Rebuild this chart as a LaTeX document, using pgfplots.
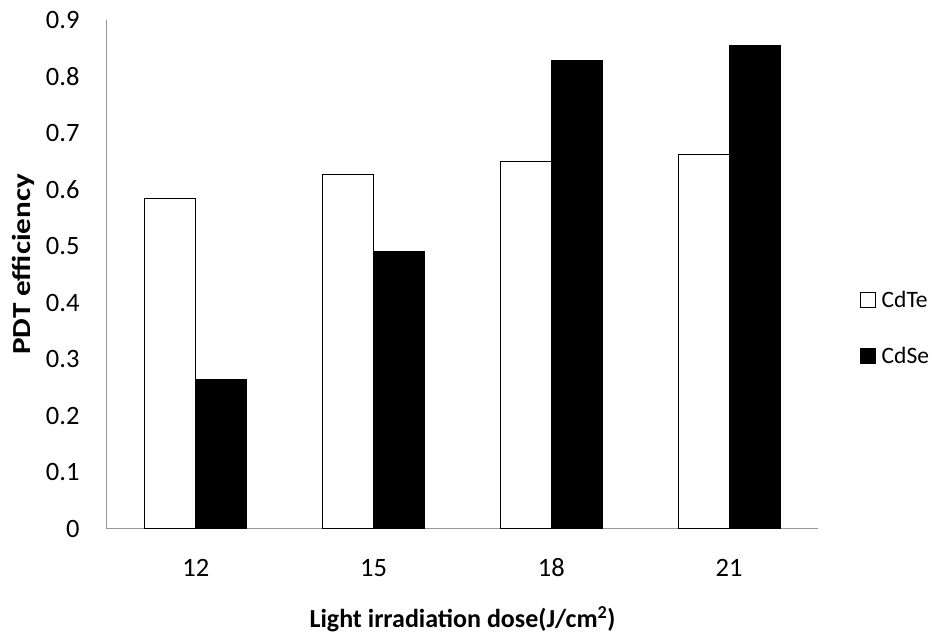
\documentclass[border=0pt]{standalone}
\usepackage{fontspec}
\setmainfont{Carlito}
\usepackage{pgfplots}
\pgfplotsset{compat=1.18}
\begin{document}
\begin{tikzpicture}[x=1pt,y=1pt]
\begin{axis}[
  name=ax,
  at={(107pt,106pt)}, anchor=south west,
  scale only axis, width=711pt, height=509pt,
  xmin=-0.5, xmax=3.5, ymin=0, ymax=0.9,
  axis lines*=left,
  axis line style={draw=gray!80, line width=1pt},
  xtick={0,1,2,3}, xticklabels={12,15,18,21},
  ytick={0,0.1,...,0.9},
  yticklabel style={/pgf/number format/fixed, /pgf/number format/precision=1},
  /pgf/number format/assume math mode=true,
  major tick length=0pt,
  tick label style={font=\fontsize{26.5}{29}\selectfont},
  xticklabel style={anchor=north, yshift=-26pt, text height=18pt, text depth=0pt},
  yticklabel style={xshift=-24pt},
  ybar, bar width=0.287,
  xlabel={\textbf{Light irradiation dose(J/cm\textsuperscript{2})}},
  ylabel={\scalebox{1.2}[1]{\textbf{PDT efficiency}}},
  label style={font=\fontsize{26}{28}\selectfont},
  xlabel style={at={(rel axis cs:0.5,0)}, yshift=-74pt, anchor=north},
  ylabel style={at={(rel axis cs:0,0.52)}, anchor=south, yshift=69pt},
  legend style={at={(rel axis cs:1.055,0.475)}, anchor=north west, draw=none, fill=none,
    font=\fontsize{23.5}{25}\selectfont, row sep=34pt},
  legend cell align=left,
  legend image code/.code={\draw[#1, line width=0.8pt] (0pt,-7.5pt) rectangle (15pt,7.5pt); \path[draw=none, fill=none] (0pt,0pt) -- (19pt,0pt);},
]
\addplot[draw=black, fill=white, line width=1pt, bar shift=-0.1435] coordinates {(0,0.584) (1,0.626) (2,0.649) (3,0.663)};
\addlegendentry{CdTe}
\addplot[draw=black, fill=black, line width=1pt, bar shift=0.1435] coordinates {(0,0.265) (1,0.490) (2,0.828) (3,0.855)};
\addlegendentry{CdSe}
\end{axis}
\pgfresetboundingbox
\path (0pt,0pt) rectangle (938pt,635pt);
\end{tikzpicture}
\end{document}
